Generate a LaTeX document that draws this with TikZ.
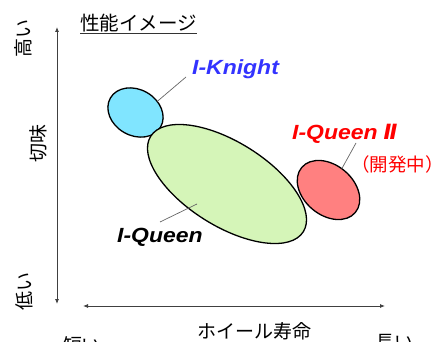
\documentclass[tikz,border=0pt]{standalone}
\usepackage{fontspec}
\usetikzlibrary{shapes.geometric,arrows.meta}
\newfontfamily\jp{Noto Sans CJK JP}
\newfontfamily\lab[FakeStretch=1.12]{Liberation Sans}
\newfontfamily\dv{DejaVu Sans}
\definecolor{bluefill}{HTML}{80E5FF}
\definecolor{greenfill}{HTML}{D5F5B8}
\definecolor{redfill}{HTML}{FF8080}
\definecolor{labblue}{HTML}{3333FF}
\definecolor{labred}{HTML}{FF0000}
\begin{document}
\begin{tikzpicture}[x=1pt,y=-1pt,
  jpt/.style={font=\jp\fontsize{19}{19}\selectfont, inner sep=0pt},
  axis/.style={draw=black!75, line width=0.8pt, {Latex[length=5pt,width=4pt]}-{Latex[length=5pt,width=4pt]}},
  lead/.style={draw=black!60, line width=0.7pt},
  blob/.style={ellipse, draw=black, line width=1.3pt, inner sep=0pt, outer sep=0pt},
  lbl/.style={font=\lab\bfseries\itshape\fontsize{20.5}{20.5}\selectfont, inner sep=0pt, anchor=base west}]
\useasboundingbox (0,0) rectangle (445,342);
% axes
\coordinate (vtop) at (57,27);
\coordinate (vbot) at (57,304);
\draw[axis] (vtop) -- (vbot);
\coordinate (hleft) at (83,306);
\coordinate (hright) at (385,306);
\draw[axis] (hleft) -- (hright);
% title
\node[jpt, anchor=west, font=\jp\fontsize{19.5}{19.5}\selectfont] (title) at (80,23) {性能イメージ};
\draw[black!80, line width=0.8pt] ([yshift=-1pt]title.south west) -- ([yshift=-1pt]title.south east);
% axis labels
\node[jpt, rotate=90] (hi) at (23,39) {高い};
\node[jpt, rotate=90] (kire) at (38,144) {切味};
\node[jpt, rotate=90] (lo) at (24,291) {低い};
\node[jpt] (short) at (82,345) {短い};
\node[jpt] (life) at (254,331) {ホイール寿命};
\node[jpt] (long) at (394,343) {長い};
% ellipses
\node[blob, fill=bluefill, minimum width=58, minimum height=46, rotate=-30] (knight) at (135.5,112.5) {};
\node[blob, fill=greenfill, minimum width=180, minimum height=84, rotate=-32] (queen) at (227,184) {};
\node[blob, fill=redfill, minimum width=70, minimum height=50, rotate=-40] (queen2) at (328.5,190) {};
% labels
\node[lbl, text=labblue] (knl) at (192,75) {I-Knight};
\node[lbl, text=labred] (q2l) at (292,140) {I-Queen\kern6pt{\dv\bfseries\itshape\fontsize{21}{21}\selectfont Ⅱ}};
\node[jpt, text=labred, anchor=west, font=\jp\fontsize{18.5}{18.5}\selectfont] (dev) at (351,164) {（開発中）};
\node[lbl, text=black] (ql) at (117,243) {I-Queen};
% leaders
\coordinate (knA) at (186,77);
\draw[lead] (knight.57) -- (knA);
\coordinate (q2A) at (356,143);
\draw[lead] (queen2.98) -- (q2A);
\coordinate (qA) at (160,222);
\coordinate (qB) at (197,204);
\draw[lead] (qA) -- (qB);
\end{tikzpicture}
\end{document}
